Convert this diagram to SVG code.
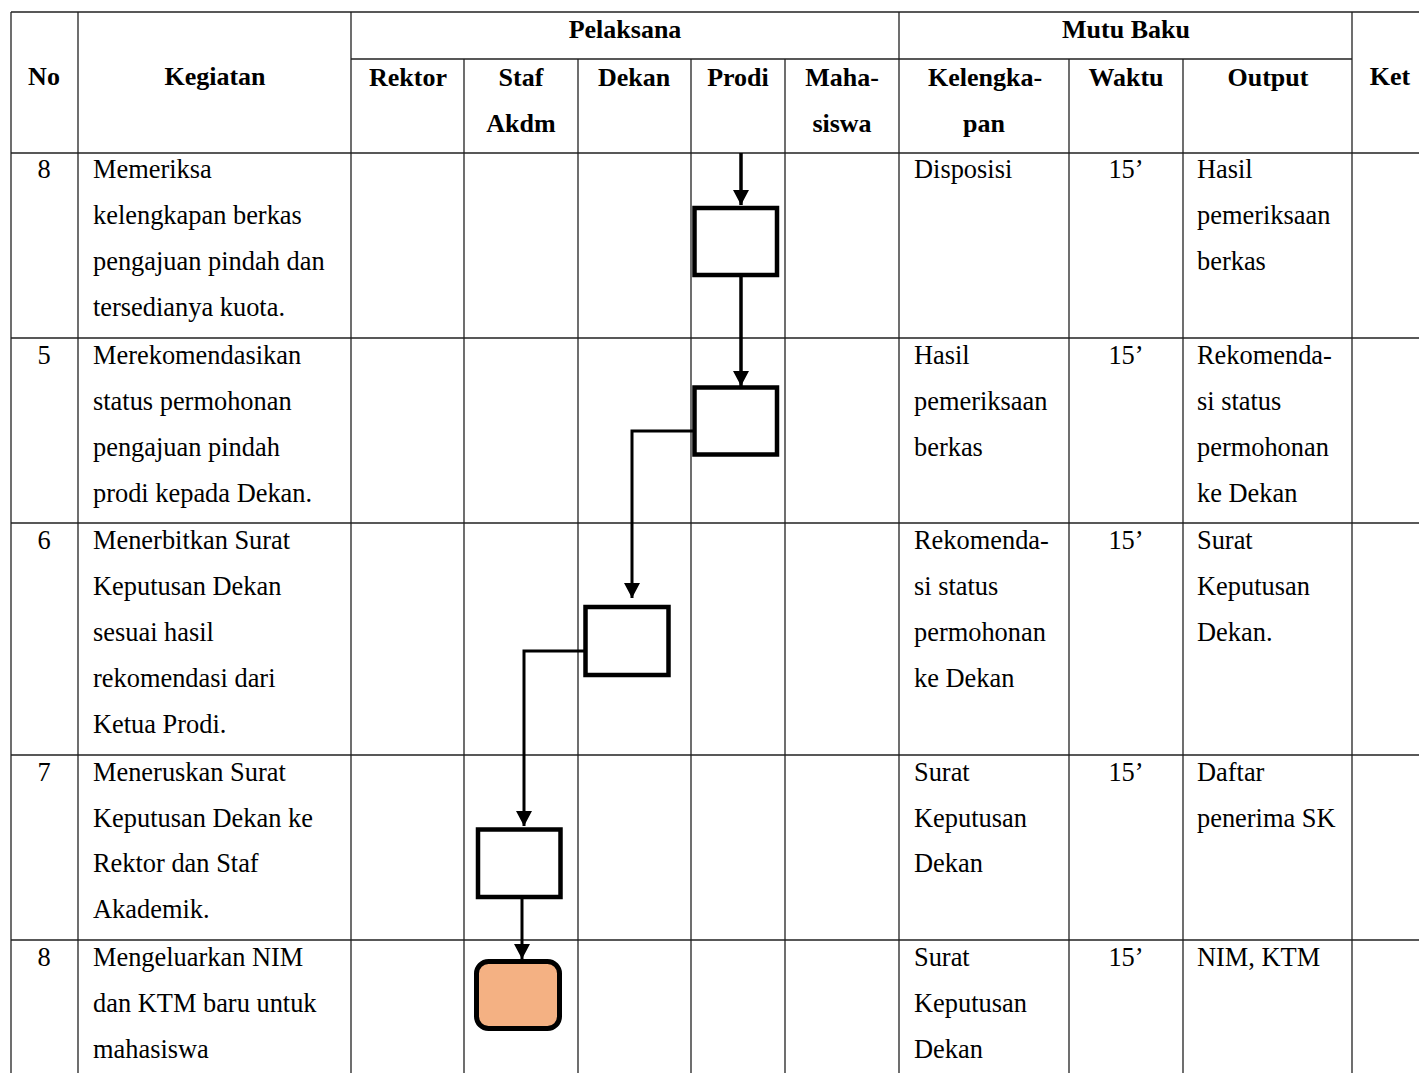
<svg xmlns="http://www.w3.org/2000/svg" width="1419" height="1073" viewBox="0 0 1419 1073">
<defs>
<style>
.g{stroke:#222;stroke-width:1.3;fill:none}
.t{font-family:"Liberation Serif","Times New Roman",serif;font-size:26.4px;fill:#000}
.h{font-family:"Liberation Serif","Times New Roman",serif;font-size:26px;font-weight:bold;fill:#000;text-anchor:middle}
.c{text-anchor:middle}
.box{fill:#fff;stroke:#000;stroke-width:4.5}
.end{fill:#F4B183;stroke:#000;stroke-width:5}
.ln{fill:none;stroke:#000;stroke-width:3.5}
.ln2{fill:none;stroke:#000;stroke-width:3}
</style>
<marker id="ah" markerWidth="16" markerHeight="16" refX="8" refY="15" orient="0" markerUnits="userSpaceOnUse" viewBox="0 0 16 16">
<path d="M0,0 L16,0 L8,15 Z" fill="#000"/>
</marker>
</defs>
<rect width="1419" height="1073" fill="#fff"/>
<g id="grid">
<path class="g" d="M11,12 H1419 M351,59 H1352 M11,153 H1419 M11,338 H1419 M11,523 H1419 M11,755 H1419 M11,940 H1419"/>
<path class="g" d="M11,12 V1073 M78,12 V1073 M351,12 V1073 M899,12 V1073 M1352,12 V1073 M464,59 V1073 M578,59 V1073 M691,59 V1073 M785,59 V1073 M1069,59 V1073 M1183,59 V1073"/>
</g>
<g id="header">
<text class="h" x="44" y="85">No</text>
<text class="h" x="215" y="85">Kegiatan</text>
<text class="h" x="625" y="38">Pelaksana</text>
<text class="h" x="1126" y="38">Mutu Baku</text>
<text class="h" x="408" y="86">Rektor</text>
<text class="h" x="521" y="86">Staf</text>
<text class="h" x="521" y="132">Akdm</text>
<text class="h" x="634" y="86">Dekan</text>
<text class="h" x="738" y="86">Prodi</text>
<text class="h" x="842" y="86">Maha-</text>
<text class="h" x="842" y="132">siswa</text>
<text class="h" x="985" y="86">Kelengka-</text>
<text class="h" x="984" y="132">pan</text>
<text class="h" x="1126" y="86">Waktu</text>
<text class="h" x="1268" y="86">Output</text>
<text class="h" x="1390" y="85">Ket</text>
</g>
<g id="row1">
<text class="t c" x="44" y="178">8</text>
<text class="t" x="93" y="178"><tspan x="93">Memeriksa</tspan><tspan x="93" dy="46">kelengkapan berkas</tspan><tspan x="93" dy="46">pengajuan pindah dan</tspan><tspan x="93" dy="46">tersedianya kuota.</tspan></text>
<text class="t" x="914" y="178">Disposisi</text>
<text class="t c" x="1126" y="178">15’</text>
<text class="t" x="1197" y="178"><tspan x="1197">Hasil</tspan><tspan x="1197" dy="46">pemeriksaan</tspan><tspan x="1197" dy="46">berkas</tspan></text>
</g>
<g id="row2">
<text class="t c" x="44" y="364">5</text>
<text class="t" x="93" y="364"><tspan x="93">Merekomendasikan</tspan><tspan x="93" dy="46">status permohonan</tspan><tspan x="93" dy="46">pengajuan pindah</tspan><tspan x="93" dy="46">prodi kepada Dekan.</tspan></text>
<text class="t" x="914" y="364"><tspan x="914">Hasil</tspan><tspan x="914" dy="46">pemeriksaan</tspan><tspan x="914" dy="46">berkas</tspan></text>
<text class="t c" x="1126" y="364">15’</text>
<text class="t" x="1197" y="364"><tspan x="1197">Rekomenda-</tspan><tspan x="1197" dy="46">si status</tspan><tspan x="1197" dy="46">permohonan</tspan><tspan x="1197" dy="46">ke Dekan</tspan></text>
</g>
<g id="row3">
<text class="t c" x="44" y="549">6</text>
<text class="t" x="93" y="549"><tspan x="93">Menerbitkan Surat</tspan><tspan x="93" dy="46">Keputusan Dekan</tspan><tspan x="93" dy="46">sesuai hasil</tspan><tspan x="93" dy="46">rekomendasi dari</tspan><tspan x="93" dy="46">Ketua Prodi.</tspan></text>
<text class="t" x="914" y="549"><tspan x="914">Rekomenda-</tspan><tspan x="914" dy="46">si status</tspan><tspan x="914" dy="46">permohonan</tspan><tspan x="914" dy="46">ke Dekan</tspan></text>
<text class="t c" x="1126" y="549">15’</text>
<text class="t" x="1197" y="549"><tspan x="1197">Surat</tspan><tspan x="1197" dy="46">Keputusan</tspan><tspan x="1197" dy="46">Dekan.</tspan></text>
</g>
<g id="row4">
<text class="t c" x="44" y="781">7</text>
<text class="t" x="93" y="781"><tspan x="93">Meneruskan Surat</tspan><tspan x="93" dy="46">Keputusan Dekan ke</tspan><tspan x="93" dy="45">Rektor dan Staf</tspan><tspan x="93" dy="46">Akademik.</tspan></text>
<text class="t" x="914" y="781"><tspan x="914">Surat</tspan><tspan x="914" dy="46">Keputusan</tspan><tspan x="914" dy="45">Dekan</tspan></text>
<text class="t c" x="1126" y="781">15’</text>
<text class="t" x="1197" y="781"><tspan x="1197">Daftar</tspan><tspan x="1197" dy="46">penerima SK</tspan></text>
</g>
<g id="row5">
<text class="t c" x="44" y="966">8</text>
<text class="t" x="93" y="966"><tspan x="93">Mengeluarkan NIM</tspan><tspan x="93" dy="46">dan KTM baru untuk</tspan><tspan x="93" dy="46">mahasiswa</tspan></text>
<text class="t" x="914" y="966"><tspan x="914">Surat</tspan><tspan x="914" dy="46">Keputusan</tspan><tspan x="914" dy="46">Dekan</tspan></text>
<text class="t c" x="1126" y="966">15’</text>
<text class="t" x="1197" y="966">NIM, KTM</text>
</g>
<g id="connectors">
<path class="ln" d="M741,153 V205" marker-end="url(#ah)"/>
<path class="ln" d="M741,277 V386" marker-end="url(#ah)"/>
<path class="ln2" d="M694,431 H632 V598" marker-end="url(#ah)"/>
<path class="ln2" d="M585,651 H524 V826" marker-end="url(#ah)"/>
<path class="ln2" d="M522,899 V959" marker-end="url(#ah)"/>
</g>
<g id="node1"><rect class="box" x="694.5" y="208" width="82.5" height="67"/></g>
<g id="node2"><rect class="box" x="694.5" y="387.5" width="82.5" height="67"/></g>
<g id="node3"><rect class="box" x="585.5" y="607" width="83" height="68"/></g>
<g id="node4"><rect class="box" x="478" y="829.5" width="82.5" height="67.5"/></g>
<g id="node5"><rect class="end" x="476.5" y="961.5" width="83" height="67" rx="12" ry="12"/></g>
</svg>
